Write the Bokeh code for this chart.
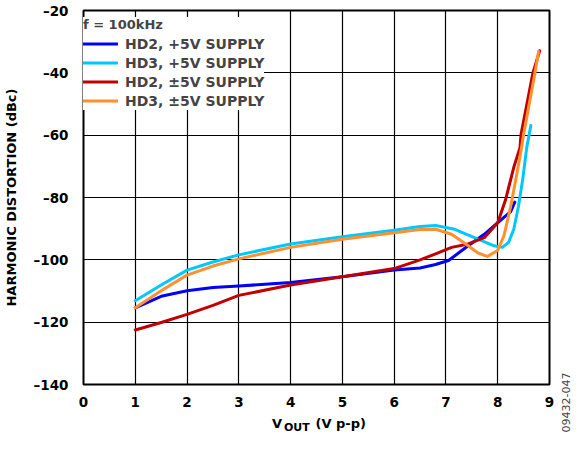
import math
from bokeh.plotting import figure
from bokeh.models import Legend, LegendItem, FixedTicker, Range1d
from bokeh.layouts import row, column
from bokeh.core.properties import value
from bokeh.embed import file_html
from bokeh.resources import INLINE

# ---- data ----
x_hd2_p5 = [1, 1.5, 2, 2.5, 3, 4, 5, 6, 6.5, 6.8, 7.05, 7.43, 7.74, 8.0, 8.25, 8.33]
y_hd2_p5 = [-115.4, -111.7, -109.9, -108.9, -108.4, -107.3, -105.4, -103.3, -102.6, -101.5,
            -100.2, -95.5, -91.8, -88.1, -84.5, -81.5]

x_hd3_p5 = [1, 1.5, 2, 2.5, 3, 4, 5, 6, 6.5, 6.8, 7.17, 7.55, 7.93, 8.09, 8.21, 8.31,
            8.40, 8.48, 8.56, 8.64]
y_hd3_p5 = [-113.1, -108.1, -103.3, -100.7, -98.4, -94.9, -92.6, -90.5, -89.3, -89.0,
            -90.2, -92.9, -95.5, -96.0, -94.4, -90.2, -82.9, -74.5, -64.0, -56.9]

x_hd2_pm5 = [1, 1.5, 2, 2.5, 3, 4, 5, 6, 6.5, 6.8, 7.11, 7.43, 7.74, 8.0, 8.15, 8.31,
             8.43, 8.45, 8.68, 8.81]
y_hd2_pm5 = [-122.5, -120.1, -117.5, -114.6, -111.4, -108.1, -105.4, -102.8, -100.0, -98.1,
             -96.0, -94.9, -92.9, -88.1, -80.8, -70.3, -64.0, -59.8, -40.0, -32.9]

x_hd3_pm5 = [1, 1.5, 2, 2.5, 3, 4, 5, 6, 6.5, 6.8, 7.11, 7.43, 7.62, 7.80, 8.0, 8.12,
             8.25, 8.37, 8.46, 8.50, 8.72, 8.79]
y_hd3_pm5 = [-115.4, -109.9, -104.9, -102.0, -99.7, -96.0, -93.4, -91.3, -90.3, -90.2,
             -91.8, -95.5, -97.8, -98.9, -97.0, -92.3, -82.9, -72.4, -64.0, -59.8, -40.0, -33.1]

series_labels = ["HD2, +5V SUPPLY", "HD3, +5V SUPPLY", "HD2, \u00b15V SUPPLY", "HD3, \u00b15V SUPPLY"]
series_colors = ["#0000FF", "#00C8FF", "#C00000", "#FF9030"]
legend_title = "f = 100kHz"

x_ticks = [0, 1, 2, 3, 4, 5, 6, 7, 8, 9]
y_ticks = [-140, -120, -100, -80, -60, -40, -20]
y_tick_labels = ["\u2013140", "\u2013120", "\u2013100", "\u201380", "\u201360", "\u201340", "\u201320"]

y_title = "HARMONIC DISTORTION (dBc)"
x_title_parts = ["V", "OUT", "(V p-p)"]
fig_id = "09432-047"

FONT = "DejaVu Sans"

# ---- main chart ----
x_range = Range1d(0, 9)
p = figure(width=558, height=412, output_backend="svg", toolbar_location=None,
           x_range=x_range, y_range=Range1d(-140, -20),
           min_border_left=78, min_border_right=9, min_border_top=10, min_border_bottom=28)
p.background_fill_color = "white"
p.border_fill_color = "white"
p.outline_line_color = "black"
p.outline_line_width = 2

for ax in (p.xaxis[0], p.yaxis[0]):
    ax.axis_line_color = None
    ax.major_tick_line_color = None
    ax.minor_tick_line_color = None
    ax.major_label_text_font = FONT
    ax.major_label_text_font_style = "bold"
    ax.major_label_text_font_size = "13.5px"
    ax.major_label_text_color = "black"

p.xaxis.ticker = FixedTicker(ticks=x_ticks)
p.yaxis.ticker = FixedTicker(ticks=y_ticks)
p.yaxis.major_label_overrides = {t: s for t, s in zip(y_ticks, y_tick_labels)}
p.xaxis.major_label_standoff = 6
p.yaxis.major_label_standoff = 9

p.yaxis.axis_label = y_title
p.yaxis.axis_label_text_font = FONT
p.yaxis.axis_label_text_font_style = "bold"
p.yaxis.axis_label_text_font_size = "13px"
p.yaxis.axis_label_text_color = "black"
p.yaxis.axis_label_standoff = 12

p.grid.grid_line_color = "black"
p.grid.grid_line_width = 1.2
p.xgrid.ticker = FixedTicker(ticks=x_ticks)
p.ygrid.ticker = FixedTicker(ticks=y_ticks)

renderers = []
for xs, ys, c in [(x_hd2_p5, y_hd2_p5, series_colors[0]),
                  (x_hd3_p5, y_hd3_p5, series_colors[1]),
                  (x_hd2_pm5, y_hd2_pm5, series_colors[2]),
                  (x_hd3_pm5, y_hd3_pm5, series_colors[3])]:
    r = p.line(xs, ys, line_color=c, line_width=3, line_join="round", line_cap="round")
    renderers.append(r)

legend = Legend(items=[LegendItem(label=l, renderers=[r]) for l, r in zip(series_labels, renderers)],
                location=(0, 274), title=legend_title)
legend.margin = 0
legend.padding = 7
legend.spacing = 0
legend.label_height = 19
legend.glyph_height = 19
legend.glyph_width = 35
legend.label_standoff = 7
legend.label_width = 135
legend.title_standoff = 2
legend.title_text_font = FONT
legend.title_text_font_style = "bold"
legend.title_text_font_size = "13px"
legend.label_text_font = FONT
legend.label_text_font_style = "bold"
legend.label_text_font_size = "14px"
legend.background_fill_color = "white"
legend.background_fill_alpha = 1.0
legend.border_line_color = None
p.add_layout(legend)


def strip(w, h, xr):
    f = figure(width=w, height=h, output_backend="svg", toolbar_location=None,
               x_range=xr, y_range=Range1d(0, h),
               min_border=0, x_axis_location=None, y_axis_location=None)
    f.grid.visible = False
    f.outline_line_color = None
    f.background_fill_color = "white"
    f.border_fill_color = "white"
    return f


# ---- x axis title strip (frame aligned with the chart, shares its x range) ----
xt = strip(558, 22, x_range)
xt.text(x=[3.64], y=[11], text=[x_title_parts[0]], text_font=value(FONT), text_font_style="bold",
        text_font_size="13px", text_align="left", text_baseline="middle", text_color="black")
xt.text(x=[3.87], y=[7.5], text=[x_title_parts[1]], text_font=value(FONT), text_font_style="bold",
        text_font_size="11px", text_align="left", text_baseline="middle", text_color="black")
xt.text(x=[4.48], y=[11], text=[x_title_parts[2]], text_font=value(FONT), text_font_style="bold",
        text_font_size="13px", text_align="left", text_baseline="middle", text_color="black")

# ---- figure id strip (right edge) ----
wm = strip(14, 434, Range1d(0, 14))
wm.text(x=[7], y=[32], text=[fig_id], angle=math.pi / 2, text_font=value(FONT),
        text_font_size="11px", text_align="center", text_baseline="middle", text_color="#444444")

layout = row(column(p, xt, spacing=0), wm, spacing=0)

open("out.html", "w").write(file_html(layout, INLINE))
